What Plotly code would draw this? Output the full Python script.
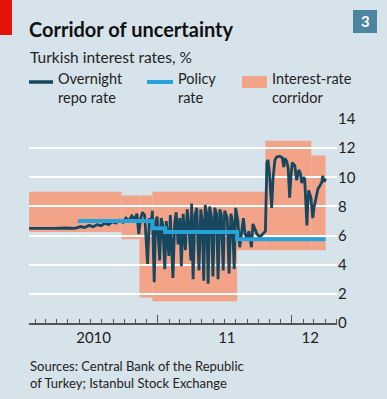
import plotly.graph_objects as go

# ---------------- data ----------------
repo_dates = [
    "2010-01-15", "2010-02-20", "2010-03-25", "2010-04-25", "2010-05-20", "2010-06-05",
    "2010-06-15", "2010-06-28", "2010-07-08", "2010-07-20", "2010-07-30", "2010-08-10",
    "2010-08-20", "2010-08-30", "2010-09-08", "2010-09-18", "2010-09-28", "2010-10-06",
    "2010-10-14", "2010-10-22", "2010-10-30", "2010-11-05", "2010-11-10", "2010-11-15",
    "2010-11-20", "2010-11-26", "2010-12-04", "2010-12-09", "2010-12-13", "2010-12-17",
    "2010-12-22", "2010-12-26", "2010-12-30", "2011-01-06", "2011-01-10", "2011-01-14",
    "2011-01-20", "2011-01-24", "2011-01-31", "2011-02-04", "2011-02-11", "2011-02-16",
    "2011-02-20", "2011-02-25", "2011-03-02", "2011-03-06", "2011-03-11", "2011-03-17",
    "2011-03-22", "2011-03-26", "2011-04-01", "2011-04-03", "2011-04-07", "2011-04-12",
    "2011-04-17", "2011-04-23", "2011-04-28", "2011-05-02", "2011-05-06", "2011-05-10",
    "2011-05-14", "2011-05-18", "2011-05-22", "2011-05-27", "2011-05-31", "2011-06-05",
    "2011-06-10", "2011-06-14", "2011-06-19", "2011-06-23", "2011-06-28", "2011-07-02",
    "2011-07-09", "2011-07-14", "2011-07-19", "2011-07-23", "2011-07-28", "2011-08-01",
    "2011-08-07", "2011-08-12", "2011-08-18", "2011-08-22", "2011-08-26", "2011-08-31",
    "2011-09-06", "2011-09-13", "2011-09-17", "2011-09-22", "2011-09-28", "2011-10-06",
    "2011-10-14", "2011-10-21", "2011-10-25", "2011-10-28", "2011-11-01", "2011-11-05",
    "2011-11-07", "2011-11-11", "2011-11-16", "2011-11-21", "2011-11-29", "2011-12-06",
    "2011-12-10", "2011-12-13", "2011-12-18", "2011-12-22", "2011-12-26", "2011-12-30",
    "2012-01-02", "2012-01-09", "2012-01-14", "2012-01-20", "2012-01-24", "2012-01-28",
    "2012-02-01", "2012-02-05", "2012-02-08", "2012-02-11", "2012-02-13", "2012-02-16",
    "2012-02-22", "2012-02-24", "2012-02-27", "2012-03-02", "2012-03-06", "2012-03-12",
    "2012-03-17", "2012-03-23", "2012-03-25", "2012-03-29", "2012-04-02",
]
repo_values = [
    6.5, 6.48, 6.5, 6.52, 6.5, 6.62,
    6.55, 6.7, 6.6, 6.75, 6.68, 6.85,
    6.75, 6.95, 6.85, 7.05, 6.9, 7.2,
    7.0, 7.35, 7.1, 7.5, 6.1, 7.15,
    7.6, 7.4, 4.05, 7.2, 6.5, 7.7,
    2.8, 7.0, 7.3, 4.3, 7.2, 6.8,
    3.7, 7.0, 4.6, 7.4, 3.1, 6.9,
    7.6, 5.4, 7.2, 3.9, 7.5, 5.0,
    7.8, 6.9, 4.3, 8.2, 3.0, 7.4,
    7.9, 3.6, 7.8, 7.0, 2.9, 8.1,
    7.5, 2.7, 8.0, 7.3, 3.2, 7.9,
    7.5, 3.0, 7.8, 7.4, 3.6, 7.7,
    7.2, 3.4, 7.5, 7.0, 3.7, 7.9,
    7.0, 5.2, 6.5, 7.2, 6.2, 5.8,
    6.3, 5.2, 6.8, 6.5, 6.1, 5.9,
    6.1, 6.3, 11.0, 11.2, 10.3, 8.4,
    7.9, 10.0, 11.2, 11.4, 11.45, 11.35,
    10.7, 11.3, 11.1, 10.6, 8.6, 10.2,
    11.0, 10.8, 9.8, 10.5, 10.3, 9.6,
    10.0, 9.9, 8.5, 6.7, 8.0, 9.1,
    8.6, 8.2, 7.2, 8.0, 8.6, 9.2,
    9.4, 9.7, 10.1, 9.7, 9.9,
]

policy_dates = ["2010-05-28", "2010-12-17", "2011-01-21", "2011-08-05", "2012-04-02"]
policy_values = [7.0, 6.5, 6.25, 5.75, 5.75]

corridor_dates = ["2010-01-15", "2010-09-24", "2010-11-12", "2010-12-17",
                  "2011-08-05", "2011-10-21", "2012-02-23", "2012-04-02"]
corridor_upper = [9.0, 8.75, 8.75, 9.0, 9.0, 12.5, 11.5, 11.5]
corridor_lower = [6.25, 5.75, 1.75, 1.5, 5.0, 5.0, 5.0, 5.0]

year_ticks = ["2011-01-01", "2012-01-01"]
label_dates = ["2010-07-10", "2011-07-08", "2012-02-20"]
label_text = ["2010", "11", "12"]
y_ticks = [0, 2, 4, 6, 8, 10, 12, 14]
x_range = ["2010-01-15", "2012-05-03"]

# ---------------- style ----------------
BG = "#d7e3ea"
DARK = "#17475f"
BLUE = "#28a3d9"
ORANGE = "#f3a388"
TXT = "#222222"
FONT = "Lato"

W, H = 387, 399
L, R, T, B = 29, 50, 119, 76
PW, PH = W - L - R, H - T - B


def px(x):
    return (x - L) / PW


def py(y):
    return (H - B - y) / PH


fig = go.Figure()

fig.add_trace(go.Scatter(x=repo_dates, y=repo_values, mode="lines",
                         line=dict(color=DARK, width=2.8),
                         showlegend=False, hoverinfo="skip"))
fig.add_trace(go.Scatter(x=policy_dates, y=policy_values, mode="lines",
                         line=dict(color=BLUE, width=4, shape="hv"),
                         showlegend=False, hoverinfo="skip"))

shapes = []
# corridor rectangles (data coordinates, below gridlines)
for i in range(len(corridor_dates) - 1):
    shapes.append(dict(type="rect", xref="x", yref="y", layer="below",
                       x0=corridor_dates[i], x1=corridor_dates[i + 1],
                       y0=corridor_lower[i], y1=corridor_upper[i],
                       fillcolor=ORANGE, line=dict(width=0)))

# decorations
shapes += [
    dict(type="rect", xref="paper", yref="paper", x0=px(0), x1=px(12), y0=py(35), y1=py(0),
         fillcolor="#e3120b", line=dict(width=0)),
    dict(type="rect", xref="paper", yref="paper", x0=px(353), x1=px(377), y0=py(33), y1=py(10),
         fillcolor="#4d84a0", line=dict(width=0)),
    dict(type="line", xref="paper", yref="paper", x0=px(29), x1=px(53), y0=py(82), y1=py(82),
         line=dict(color=DARK, width=3.5)),
    dict(type="line", xref="paper", yref="paper", x0=px(147), x1=px(173), y0=py(82), y1=py(82),
         line=dict(color=BLUE, width=4)),
    dict(type="rect", xref="paper", yref="paper", x0=px(242), x1=px(267), y0=py(88), y1=py(76),
         fillcolor=ORANGE, line=dict(width=0)),
]


def ann(text, x, y, size, color=TXT, xanchor="left", bold=False):
    return dict(text=("<b>%s</b>" % text) if bold else text, x=px(x), y=py(y),
                xref="paper", yref="paper", xanchor=xanchor, yanchor="middle",
                align="left", showarrow=False,
                font=dict(family=FONT, size=size, color=color))


annotations = [
    ann("Corridor of uncertainty", 27, 29, 20, "#111111", bold=True),
    ann("Turkish interest rates, %", 28, 57, 15.5),
    ann("Overnight<br>repo rate", 56, 88, 14.5),
    ann("Policy<br>rate", 176, 88, 14.5),
    ann("Interest-rate<br>corridor", 270, 88, 14.5),
    ann("3", 365, 21.5, 15, "white", xanchor="center", bold=True),
    ann("Sources: Central Bank of the Republic<br>of Turkey; Istanbul Stock Exchange", 28, 374, 13),
]

fig.update_layout(
    width=W, height=H,
    margin=dict(l=L, r=R, t=T, b=B),
    paper_bgcolor=BG, plot_bgcolor=BG,
    font=dict(family=FONT, size=14, color=TXT),
    showlegend=False,
    shapes=shapes,
    annotations=annotations,
    xaxis=dict(type="date", range=x_range, tickmode="array", tickvals=label_dates,
               ticktext=label_text, ticks="", showgrid=False, zeroline=False,
               showline=True, linecolor="#555555", linewidth=1.5,
               tickfont=dict(family=FONT, size=15, color=TXT),
               minor=dict(tickmode="linear", tick0="2010-01-01", dtick="M1",
                          ticks="inside", ticklen=4, tickwidth=1, tickcolor="#555555",
                          showgrid=False)),
    xaxis2=dict(type="date", range=x_range, overlaying="x", anchor="y", side="bottom",
                tickmode="array", tickvals=year_ticks, ticks="inside", ticklen=8,
                tickwidth=1.2, tickcolor="#555555", showticklabels=False,
                showgrid=False, zeroline=False, showline=False),
    yaxis=dict(range=[0, 14], tickvals=y_ticks, side="right", showgrid=True,
               gridcolor="white", gridwidth=2, zeroline=False, showline=False,
               ticks="", tickfont=dict(family=FONT, size=15, color=TXT)),
)

# invisible trace to activate xaxis2
fig.add_trace(go.Scatter(x=[x_range[0]], y=[0], xaxis="x2", yaxis="y", mode="markers",
                         marker=dict(opacity=0), showlegend=False, hoverinfo="skip"))

fig.write_html("out.html",
               config={"displayModeBar": False, "staticPlot": True},
               post_script="document.body.style.margin='0';"
                           "document.body.style.overflow='hidden';")
